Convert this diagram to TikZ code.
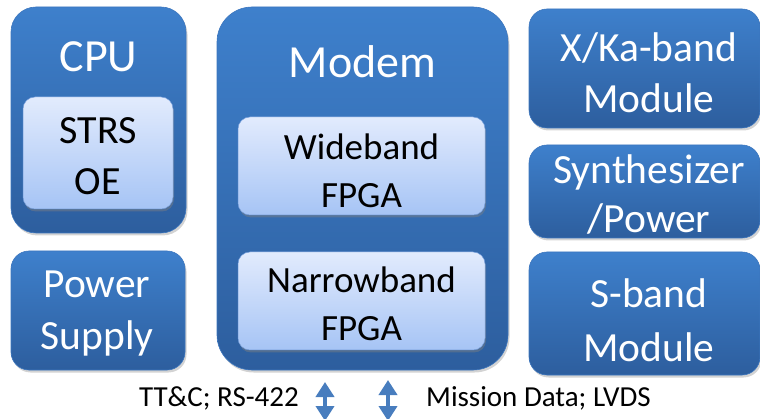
\documentclass[tikz,border=0pt]{standalone}
\usepackage{fontspec}
\setmainfont{Carlito}
\usetikzlibrary{shadows,arrows.meta}
\definecolor{outerTop}{RGB}{62,128,204}
\definecolor{outerBot}{RGB}{45,94,158}
\definecolor{outerEdge}{RGB}{60,118,190}
\definecolor{innerTop}{RGB}{226,235,253}
\definecolor{innerBot}{RGB}{166,196,245}
\definecolor{innerEdge}{RGB}{120,160,220}
\definecolor{arrowBlue}{RGB}{72,125,190}
\tikzset{
  outerbox/.style={rounded corners=#1, top color=outerTop, bottom color=outerBot,
    draw=outerEdge, line width=0.6pt, inner sep=0pt, outer sep=0pt, anchor=north west,
    drop shadow={opacity=0.35, shadow xshift=1.5pt, shadow yshift=-2.5pt}},
  outerbox/.default=20pt,
  innerbox/.style={rounded corners=12pt, top color=innerTop, bottom color=innerBot,
    draw=innerEdge, line width=0.5pt, inner sep=0pt, outer sep=0pt, anchor=north west,
    drop shadow={opacity=0.45, shadow xshift=1pt, shadow yshift=-2.5pt}},
  whitetitle/.style={text=white, font=\fontsize{46}{50}\selectfont, inner sep=0pt},
  whitelabel/.style={text=white, align=center, inner sep=0pt, font=\fontsize{41.5}{#1}\selectfont},
  blacklabel/.style={text=black, align=center, inner sep=0pt, font=\fontsize{37}{#1}\selectfont},
  bottomlabel/.style={text=black, inner sep=0pt, font=\fontsize{29}{32}\selectfont},
  dblarrow/.style={draw=arrowBlue, line width=4pt,
    {Triangle[width=18pt,length=15pt]}-{Triangle[width=18pt,length=15pt]}},
}
\begin{document}
\begin{tikzpicture}[x=1pt,y=-1pt]
\useasboundingbox (0,0) rectangle (760,419);
% CPU
\node[outerbox=25pt, minimum width=175pt, minimum height=226pt] (cpu) at (11,7) {};
\node[whitetitle] (cputxt) at (98.5,57) {CPU};
\node[innerbox, minimum width=150pt, minimum height=112pt] (strs) at (23,97) {};
\node[blacklabel=51pt, font=\fontsize{40}{51}\selectfont] (strstxt) at (98,156) {STRS\\OE};
% Power supply
\node[outerbox=18pt, minimum width=174pt, minimum height=119pt] (psu) at (11,251) {};
\node[whitelabel=52pt] (psutxt) at (97,314) {Power\\Supply};
% Modem
\node[outerbox=35pt, minimum width=291pt, minimum height=363pt] (modem) at (217,7) {};
\node[whitetitle] (modemtxt) at (362.5,62) {Modem};
\node[innerbox, minimum width=247pt, minimum height=98pt] (wb) at (238,117) {};
\node[blacklabel=48pt] (wbtxt) at (361.5,171) {Wideband\\FPGA};
\node[innerbox, minimum width=247pt, minimum height=98pt] (nb) at (238,252) {};
\node[blacklabel=48pt] (nbtxt) at (361.5,304) {Narrowband\\FPGA};
% Right column
\node[outerbox=18pt, minimum width=231pt, minimum height=119pt] (xka) at (529,9) {};
\node[whitelabel=51pt] (xkatxt) at (649,73) {X/Ka-band\\Module};
\node[outerbox=18pt, minimum width=231pt, minimum height=93pt] (syn) at (529,145) {};
\node[whitelabel=49pt] (syntxt) at (649,194) {Synthesizer\\/Power};
\node[outerbox=18pt, minimum width=231pt, minimum height=123pt] (sb) at (529,252) {};
\node[whitelabel=54pt] (sbtxt) at (649,320) {S-band\\Module};
% Bottom interfaces
\node[bottomlabel, anchor=east] (ttc) at (299,398) {TT\&C; RS-422};
\node[bottomlabel, anchor=west] (mission) at (426,398) {Mission Data; LVDS};
\coordinate (a1top) at (325,382);
\coordinate (a1bot) at (325,421);
\coordinate (a2top) at (388,380);
\coordinate (a2bot) at (388,421);
\draw[dblarrow] (a1top) -- (a1bot);
\draw[dblarrow] (a2top) -- (a2bot);
\end{tikzpicture}
\end{document}
